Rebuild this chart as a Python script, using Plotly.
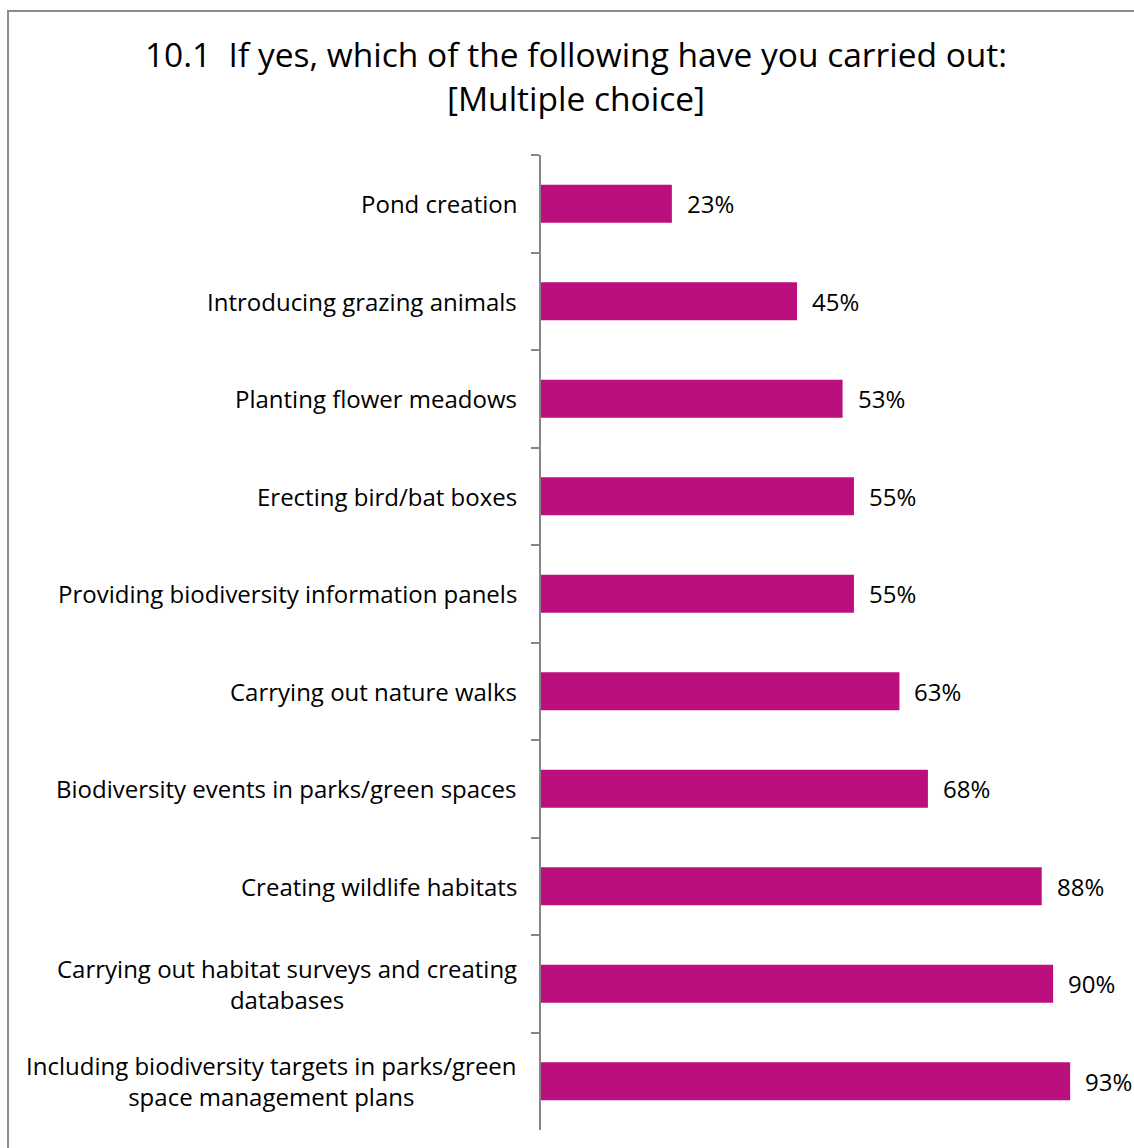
import plotly.graph_objects as go

# Survey responses, listed top to bottom
activities = [
    "Pond creation",
    "Introducing grazing animals",
    "Planting flower meadows",
    "Erecting bird/bat boxes",
    "Providing biodiversity information panels",
    "Carrying out nature walks",
    "Biodiversity events in parks/green spaces",
    "Creating wildlife habitats",
    "Carrying out habitat surveys and creating<br>databases",
    "Including biodiversity targets in parks/green<br>space management plans",
]
percent = [23, 45, 53, 55, 55, 63, 68, 88, 90, 93]

BAR = "#BB0F7D"
AXIS = "#868686"
FONT = "Open Sans"

fig = go.Figure(
    go.Bar(
        x=percent,
        y=activities,
        orientation="h",
        marker=dict(color=BAR, line=dict(width=0)),
        width=0.39,
        hoverinfo="x+y",
    )
)

# Value labels to the right of each bar
for act, v in zip(activities, percent):
    fig.add_annotation(
        x=v, y=act, xref="x", yref="y",
        text=f"{v}%", showarrow=False,
        xanchor="left", yanchor="middle", xshift=13,
        font=dict(family=FONT, size=24, color="#000000"),
    )

# Category labels, each line centred within its block
for act in activities:
    fig.add_annotation(
        x=0, y=act, xref="paper", yref="y",
        text=act, showarrow=False, align="center",
        xanchor="right", yanchor="middle", xshift=-22,
        font=dict(family=FONT, size=24, color="#000000"),
    )

# Outer chart frame (runs past the right and bottom edges)
fig.add_shape(
    type="rect", xref="paper", yref="paper",
    x0=-0.9367, x1=1.2, y0=-0.1, y1=1.1477,
    line=dict(color="#8C8C8C", width=2), layer="below",
)

fig.update_layout(
    width=1134, height=1148,
    margin=dict(l=541, r=24, t=155, b=18),
    paper_bgcolor="white", plot_bgcolor="white",
    showlegend=False,
    title=dict(
        text="10.1  If yes, which of the following have you carried out:<br>[Multiple choice]",
        x=576 / 1134, xanchor="center", xref="container",
        y=1 - 67 / 1148, yanchor="middle", yref="container",
        font=dict(family=FONT, size=33.5, color="#000000"),
    ),
    font=dict(family=FONT),
)

fig.update_xaxes(
    range=[0, 100], visible=False, showgrid=False, zeroline=False,
)
fig.update_yaxes(
    autorange="reversed", type="category",
    showline=True, linecolor=AXIS, linewidth=2,
    ticks="outside", tickson="boundaries", ticklen=8, tickwidth=2, tickcolor=AXIS,
    showticklabels=False, showgrid=False,
)

fig.write_html("out.html")
